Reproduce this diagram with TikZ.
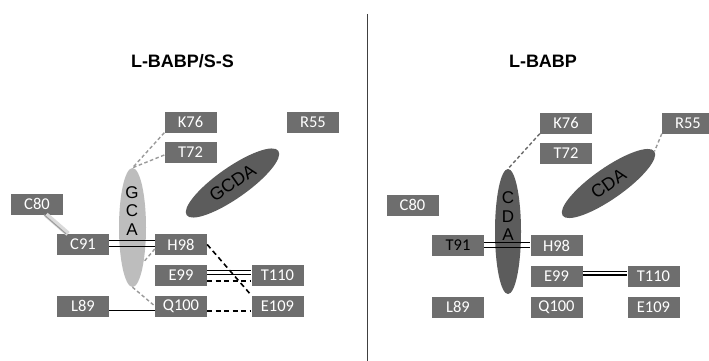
\documentclass[tikz,border=0pt]{standalone}
\usepackage{fontspec}
\setmainfont{Liberation Sans}
\newfontfamily\boxfont{Carlito}
\usetikzlibrary{shapes.geometric,calc}
\definecolor{boxgray}{HTML}{6E6E6E}
\definecolor{lightell}{HTML}{BDBDBD}
\definecolor{darkell}{HTML}{5C5C5C}
\definecolor{hbgray}{HTML}{9A9A9A}
\definecolor{hbdark}{HTML}{6A6A6A}
\definecolor{bandgray}{HTML}{DADADA}
\definecolor{sepgray}{HTML}{404040}
\begin{document}
\begin{tikzpicture}[x=1pt,y=-1pt,
 res/.style={rectangle, fill=boxgray, minimum width=52pt, minimum height=21pt, inner sep=0pt, text=white, font=\boxfont\fontsize{16.5}{19}\selectfont},
 lig/.style={ellipse, inner sep=0pt},
 ttl/.style={font=\bfseries\fontsize{18}{21}\selectfont},
 vlab/.style={align=center, font=\fontsize{17}{18.5}\selectfont, inner sep=0pt},
 rlab/.style={font=\fontsize{18}{20}\selectfont},
 hbond/.style={draw=hbgray, line width=1.4pt, dash pattern=on 3.5pt off 2.5pt},
 hbonddark/.style={draw=hbdark, line width=1.4pt, dash pattern=on 3.5pt off 2.5pt},
 bdash/.style={draw=black, line width=1.6pt, dash pattern=on 5pt off 3.5pt},
 bond/.style={draw=black, line width=1.4pt}]
\useasboundingbox (0,0) rectangle (709,361);
\fill[white] (0,0) rectangle (709,361);

% titles
\node[ttl] (t1) at (182.5,61) {L-BABP/S-S};
\node[ttl] (t2) at (543,61) {L-BABP};

% separator
\coordinate (septop) at (367.3,14);
\coordinate (sepbot) at (367.3,361);
\draw[line width=1.4pt, draw=sepgray] (septop) -- (sepbot);

% ---------- left panel ----------
\node[res] (K76a) at (190.5,122) {K76};
\node[res] (R55a) at (313,122) {R55};
\node[res] (T72a) at (190.5,152.5) {T72};
\node[res] (C80a) at (37,204) {C80};
\node[res] (C91a) at (83,244.5) {C91};
\node[res] (H98a) at (181,244.5) {H98};
\node[res] (E99a) at (181,275) {E99};
\node[res] (T110a) at (277.5,275) {T110};
\node[res] (L89a) at (83,306) {L89};
\node[res] (Q100a) at (181,306) {Q100};
\node[res] (E109a) at (277.5,306) {E109};

\node[lig, fill=lightell, minimum width=27pt, minimum height=119pt] (GCA) at (132.5,227.5) {};
\node[vlab] (GCAlbl) at (132,211) {G\\C\\A};
\node[lig, fill=darkell, minimum width=112pt, minimum height=31pt, rotate=35, rlab] (GCDA) at (232.5,183) {GCDA};

\draw[line width=5pt, draw=bandgray] ([xshift=9pt]C80a.south) -- ([xshift=-15pt]C91a.north);
\draw[line width=1pt, draw=hbgray] ([xshift=7pt]C80a.south) -- ([xshift=-17pt]C91a.north);

\draw[hbond] (K76a.south west) -- (GCA.north);
\draw[hbond] ([yshift=-2.5pt]T72a.west) -- (GCA.north);
\draw[hbond] ([yshift=-4.5pt]H98a.west) -- (GCA.-72);
\draw[hbond] (GCA.south) -- (Q100a.west);

\draw[bond] ([yshift=3.8pt]C91a.east) -- ([yshift=3.8pt]H98a.west);
\draw[bond] ([yshift=-2.2pt]C91a.east) -- ([yshift=-2.2pt]H98a.west);
\draw[bond] ([yshift=4.3pt]E99a.east) -- ([yshift=4.3pt]T110a.west);
\draw[bond] ([yshift=0.8pt]E99a.east) -- ([yshift=0.8pt]T110a.west);
\draw[bdash] ([yshift=-6pt]E99a.east) -- ([yshift=-6pt]T110a.west);
\draw[bond] ([yshift=-4.7pt]L89a.east) -- ([yshift=-4.7pt]Q100a.west);
\draw[bdash] ([yshift=-4.7pt]Q100a.east) -- ([yshift=-4.7pt]E109a.west);
\draw[bdash] (H98a.east) -- (E109a.north west);

% ---------- right panel ----------
\node[res] (K76b) at (566,123) {K76};
\node[res] (R55b) at (688,123) {R55};
\node[res] (T72b) at (566,153) {T72};
\node[res] (C80b) at (412.5,205) {C80};
\node[res, text=black] (T91b) at (458,245.5) {T91};
\node[res] (H98b) at (556.5,245.5) {H98};
\node[res] (E99b) at (556.5,276.5) {E99};
\node[res] (T110b) at (653.5,276.5) {T110};
\node[res] (L89b) at (458,307) {L89};
\node[res] (Q100b) at (556.5,307) {Q100};
\node[res] (E109b) at (653.5,307) {E109};

\node[lig, fill=darkell, minimum width=26pt, minimum height=125pt] (CDAv) at (508,231.5) {};
\node[vlab] (CDAlbl) at (508,216.5) {C\\D\\A};
\node[lig, fill=darkell, minimum width=112pt, minimum height=31pt, rotate=35, rlab] (CDAr) at (608.5,183.5) {CDA};

\draw[hbonddark] (K76b.south west) -- (CDAv.north);
\draw[hbond] (R55b.south west) -- (CDAr.east);

\draw[bond] ([yshift=3pt]T91b.east) -- ([yshift=3pt]H98b.west);
\draw[bond] ([yshift=-2pt]T91b.east) -- ([yshift=-2pt]H98b.west);
\draw[bond] ([yshift=4.8pt]E99b.east) -- ([yshift=4.8pt]T110b.west);
\draw[bond] ([yshift=1.5pt]E99b.east) -- ([yshift=1.5pt]T110b.west);
\end{tikzpicture}
\end{document}
